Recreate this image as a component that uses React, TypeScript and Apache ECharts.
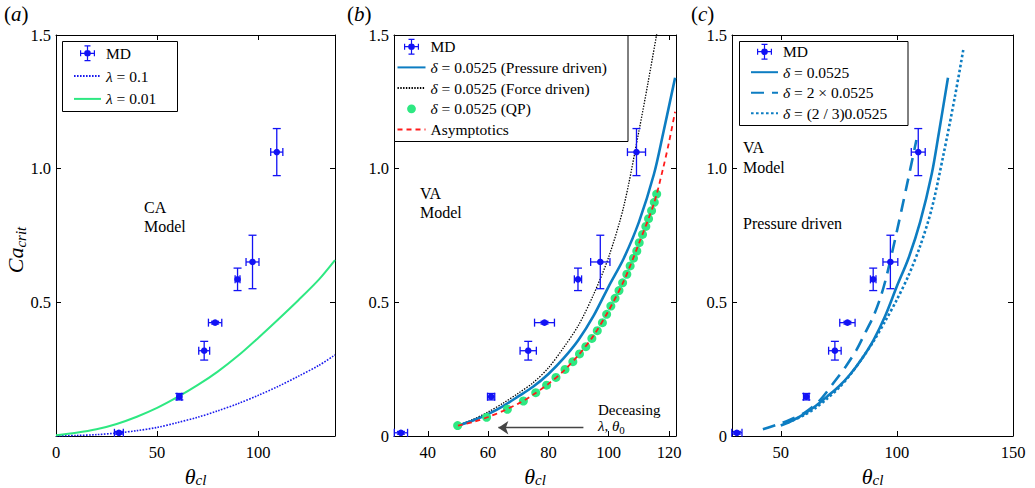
import React, { useEffect, useRef } from 'react';
import * as echarts from 'echarts';

// ---------------- data ----------------
// MD simulation points (shared by all three panels)
const mdTheta = [31.1, 61.0, 73.3, 78.7, 89.8, 97.2, 109.2];
const mdCa = [0.012, 0.147, 0.319, 0.424, 0.586, 0.651, 1.062];
const mdThetaErr = [2.2, 1.2, 2.7, 3.3, 1.2, 3.2, 3.0];
const mdCaErr = [0.005, 0.012, 0.035, 0.005, 0.042, 0.1, 0.088];

// panel (a) CA model
const caTheta = [0, 10, 20, 30, 40, 50, 60, 70, 80, 90, 100, 110, 120, 130, 138];
const caLam01 = [0, 0.002, 0.005, 0.011, 0.02, 0.032, 0.05, 0.07, 0.094, 0.121, 0.152, 0.186, 0.224, 0.264, 0.303];
const caLam001 = [0.003, 0.012, 0.025, 0.045, 0.072, 0.105, 0.145, 0.19, 0.241, 0.3, 0.367, 0.437, 0.509, 0.585, 0.658];

// panel (b) VA model
const pdTheta = [50, 55, 60, 65, 70, 75, 80, 85, 90, 95, 100, 105, 110, 115, 118, 122];
const pdCa = [0.039, 0.058, 0.082, 0.112, 0.148, 0.185, 0.232, 0.29, 0.36, 0.45, 0.56, 0.665, 0.8, 0.98, 1.13, 1.34];
const fdTheta = [50, 55, 60, 65, 70, 75, 80, 85, 90, 95, 100, 105, 110, 113, 116];
const fdCa = [0.04, 0.062, 0.09, 0.123, 0.16, 0.2, 0.255, 0.33, 0.415, 0.53, 0.67, 0.86, 1.14, 1.32, 1.51];
const qpTheta = [49.9, 59.5, 66.4, 71.7, 75.8, 79.4, 82.5, 85.5, 88.1, 90.3, 92.4, 94.4, 96.2, 97.9, 99.3, 100.7, 102.1, 103.4, 104.6, 106.0, 107.1, 108.2, 109.3, 110.1, 111.2, 112.3, 113.2, 114.2, 115.1, 115.9];
const qpCa = [0.039, 0.07, 0.1, 0.131, 0.162, 0.19, 0.219, 0.249, 0.278, 0.307, 0.334, 0.365, 0.394, 0.424, 0.455, 0.486, 0.515, 0.544, 0.573, 0.605, 0.636, 0.665, 0.692, 0.723, 0.754, 0.784, 0.813, 0.843, 0.874, 0.905];
const asTheta = [50, 55, 60, 65, 70, 75, 80, 85, 90, 95, 100, 105, 110, 115, 118, 120, 122];
const asCa = [0.039, 0.052, 0.071, 0.094, 0.121, 0.155, 0.195, 0.243, 0.303, 0.376, 0.47, 0.58, 0.72, 0.87, 1.0, 1.1, 1.213];

// panel (c) delta variations
const d2Theta = [42.3, 50, 55, 61, 67, 72.6, 78, 82.6, 86, 89.8, 93, 95.5, 99.8, 104.1, 108.4];
const d2Ca = [0.025, 0.047, 0.065, 0.091, 0.135, 0.197, 0.26, 0.322, 0.38, 0.446, 0.52, 0.596, 0.758, 0.93, 1.107];
const d23Theta = [53, 60, 65, 70, 75, 80, 85, 90, 95, 100, 105, 110, 115, 120, 125, 128.7];
const d23Ca = [0.05, 0.078, 0.105, 0.14, 0.18, 0.23, 0.29, 0.355, 0.43, 0.51, 0.6, 0.71, 0.85, 1.05, 1.27, 1.45];

// arrow annotation in panel (b): from / to (theta, Ca)
const arrowFrom = [91.6, 0.031];
const arrowTo = [63.4, 0.031];

// axis ticks
const xTicksA = [0, 50, 100];
const xTicksB = [40, 60, 80, 100, 120];
const xTicksC = [50, 100, 150];
const yTicksA = [0.5, 1.0, 1.5];
const yTicksBC = [0, 0.5, 1.0, 1.5];
const yInner = [0.5, 1.0];

// ---------------- styles ----------------
const FONT = 'Liberation Serif';
const MD_COLOR = '#1212f5';
const GREEN = '#2ee882';
const BLUE = '#0d7dc2';
const RED = '#ff1a1a';

const zip = (a: number[], b: number[]) => a.map((v, i) => [v, b[i]]);

const MD_ICON =
  'path://M0.5,7.4 H15.5 V8.6 H0.5 Z M0.5,5 H1.7 V11 H0.5 Z M14.3,5 H15.5 V11 H14.3 Z ' +
  'M7.4,0 H8.6 V16 H7.4 Z M5,0 H11 V1.2 H5 Z M5,14.8 H11 V16 H5 Z ' +
  'M11.3,8 A3.3,3.3 0 1 1 4.7,8 A3.3,3.3 0 1 1 11.3,8 Z';
const QP_ICON =
  'path://M0,0 L0,0.01 M16,16 L16,15.99 M12.4,8 A4.4,4.4 0 1 1 3.6,8 A4.4,4.4 0 1 1 12.4,8 Z';

const legendLabels: Record<string, string> = {
  'λ = 0.1': '{i|λ} = 0.1',
  'λ = 0.01': '{i|λ} = 0.01',
  'δ = 0.0525 (Pressure driven)': '{i|δ} = 0.0525 (Pressure driven)',
  'δ = 0.0525 (Force driven)': '{i|δ} = 0.0525 (Force driven)',
  'δ = 0.0525 (QP)': '{i|δ} = 0.0525 (QP)',
  'δ = 0.0525': '{i|δ} = 0.0525',
  'δ = 2 × 0.0525': '{i|δ} = 2 × 0.0525',
  'δ = (2 / 3)0.0525': '{i|δ} = (2 / 3)0.0525',
};

function mdSeries(gi: number) {
  return {
    type: 'custom',
    name: 'MD',
    xAxisIndex: gi * 2,
    yAxisIndex: gi * 2,
    z: 5,
    data: mdTheta.map((t, i) => [t, mdCa[i], mdThetaErr[i], mdCaErr[i]]),
    encode: { x: 0, y: 1 },
    itemStyle: { color: MD_COLOR },
    renderItem: (_params: any, api: any) => {
      const x = api.value(0);
      const y = api.value(1);
      const ex = api.value(2);
      const ey = api.value(3);
      const c = api.coord([x, y]);
      const l = api.coord([x - ex, y]);
      const r = api.coord([x + ex, y]);
      const t = api.coord([x, y + ey]);
      const b = api.coord([x, y - ey]);
      const cap = 4;
      const st = { stroke: MD_COLOR, lineWidth: 1.3 };
      const ln = (x1: number, y1: number, x2: number, y2: number) => ({
        type: 'line',
        shape: { x1, y1, x2, y2 },
        style: st,
      });
      return {
        type: 'group',
        children: [
          ln(l[0], l[1], r[0], r[1]),
          ln(l[0], l[1] - cap, l[0], l[1] + cap),
          ln(r[0], r[1] - cap, r[0], r[1] + cap),
          ln(t[0], t[1], b[0], b[1]),
          ln(t[0] - cap, t[1], t[0] + cap, t[1]),
          ln(b[0] - cap, b[1], b[0] + cap, b[1]),
          { type: 'circle', shape: { cx: c[0], cy: c[1], r: 3.3 }, style: { fill: MD_COLOR } },
        ],
      };
    },
  };
}

function lineSeries(gi: number, name: string, xs: number[], ys: number[], color: string, width: number, type: any) {
  return {
    type: 'line',
    name,
    xAxisIndex: gi * 2,
    yAxisIndex: gi * 2,
    data: zip(xs, ys),
    smooth: 0.3,
    symbol: 'none',
    showSymbol: false,
    clip: true,
    lineStyle: { color, width, type },
    itemStyle: { color },
    z: 3,
  };
}

const axisLabelStyle = { fontFamily: FONT, fontSize: 16.5, color: '#000' };

function xAxes(gi: number, min: number, max: number, ticks: number[], labels: number[]) {
  const common = {
    type: 'value',
    gridIndex: gi,
    min,
    max,
    splitLine: { show: false },
    axisLine: { show: true, onZero: false, lineStyle: { color: '#000', width: 1 } },
  };
  return [
    {
      ...common,
      position: 'bottom',
      axisTick: { show: true, inside: true, length: 5, customValues: ticks, lineStyle: { color: '#000' } },
      axisLabel: { ...axisLabelStyle, margin: 8, customValues: labels, formatter: (v: number) => String(v) },
      name: '{t|θ}{s|cl}',
      nameLocation: 'middle',
      nameGap: 27,
      nameTextStyle: {
        rich: {
          t: { fontFamily: FONT, fontStyle: 'italic', fontSize: 22, color: '#000', lineHeight: 22 },
          s: { fontFamily: FONT, fontStyle: 'italic', fontSize: 15, color: '#000', lineHeight: 15, padding: [7, 0, 0, 0] },
        },
      },
    },
    {
      ...common,
      position: 'top',
      axisTick: { show: true, inside: true, length: 5, customValues: ticks.filter((v) => v > min && v < max), lineStyle: { color: '#000' } },
      axisLabel: { show: false },
    },
  ];
}

const yFmt = (v: number) => (v === 0 ? '0' : v.toFixed(1));

function yAxes(gi: number, labels: number[]) {
  const common = {
    type: 'value',
    gridIndex: gi,
    min: 0,
    max: 1.5,
    splitLine: { show: false },
    axisLine: { show: true, onZero: false, lineStyle: { color: '#000', width: 1 } },
    axisTick: { show: true, inside: true, length: 5, customValues: yInner, lineStyle: { color: '#000' } },
  };
  return [
    {
      ...common,
      position: 'left',
      axisLabel: { ...axisLabelStyle, margin: 5, customValues: labels, formatter: yFmt },
    },
    {
      ...common,
      position: 'right',
      axisLabel: { show: false },
    },
  ];
}

const LEGEND_FS = 15.5;
const legendText = {
  fontFamily: FONT,
  fontSize: LEGEND_FS,
  color: '#000',
  lineHeight: 16,
  rich: {
    i: { fontFamily: FONT, fontStyle: 'italic', fontSize: LEGEND_FS, color: '#000', lineHeight: 16 },
  },
};

const hideSym = { opacity: 0 };

function legend(left: number, top: number, itemWidth: number, itemGap: number, data: any[]) {
  return {
    orient: 'vertical',
    left,
    top,
    padding: 0,
    itemWidth,
    itemHeight: 16,
    itemGap,
    selectedMode: false,
    borderWidth: 0,
    backgroundColor: 'transparent',
    textStyle: legendText,
    formatter: (name: string) => legendLabels[name] ?? name,
    z: 10,
    data,
  };
}

function box(x: number, y: number, w: number, h: number) {
  return {
    type: 'rect',
    z: 8,
    shape: { x: x + 0.5, y: y + 0.5, width: w, height: h },
    style: { fill: '#fff', stroke: '#000', lineWidth: 1 },
  };
}

const annotationStyle = { fontFamily: FONT, fontSize: 16, fill: '#000' };

function txt(x: number, y: number, text: string, extra: any = {}) {
  return {
    type: 'text',
    x,
    y,
    z: 6,
    style: { ...annotationStyle, text, verticalAlign: 'middle', ...extra },
  };
}

function panelLabel(x: number, letter: string) {
  return {
    type: 'text',
    x,
    y: 14,
    style: {
      text: '({i|' + letter + '})',
      fontFamily: FONT,
      fontSize: 21,
      fill: '#000',
      verticalAlign: 'middle',
      rich: { i: { fontFamily: FONT, fontStyle: 'italic', fontSize: 21, fill: '#000' } },
    },
  };
}

export default function App() {
  const ref = useRef<HTMLDivElement>(null);

  useEffect(() => {
    const chart = echarts.init(ref.current!, null, { renderer: 'svg' });

    const asym: any = lineSeries(1, 'Asymptotics', asTheta, asCa, RED, 1.8, [5, 4]);
    asym.z = 4;
    asym.markLine = {
      silent: true,
      animation: false,
      symbol: ['none', 'arrow'],
      symbolSize: 10,
      label: { show: false },
      lineStyle: { color: '#444', width: 1.3, type: 'solid' },
      data: [[{ coord: arrowFrom }, { coord: arrowTo }]],
    };

    const gridBase = { top: 35, height: 401, outerBoundsMode: 'none', containLabel: false };

    const option: any = {
      animation: false,
      backgroundColor: '#fff',
      grid: [
        { ...gridBase, left: 56, width: 279 },
        { ...gridBase, left: 394, width: 282 },
        { ...gridBase, left: 732, width: 281 },
      ],
      xAxis: [
        ...xAxes(0, 0, 138, [50, 100], xTicksA),
        ...xAxes(1, 28.8, 122.3, xTicksB, xTicksB),
        ...xAxes(2, 29, 150, [50, 100], xTicksC),
      ],
      yAxis: [...yAxes(0, yTicksA), ...yAxes(1, yTicksBC), ...yAxes(2, yTicksBC)],
      legend: [
        legend(73, 45.3, 27, 6.8, [
          { name: 'MD', icon: MD_ICON, itemStyle: { color: MD_COLOR, borderWidth: 0 } },
          { name: 'λ = 0.1', itemStyle: hideSym },
          { name: 'λ = 0.01', itemStyle: hideSym },
        ]),
        legend(396.5, 38.7, 28, 4.7, [
          { name: 'MD', icon: MD_ICON, itemStyle: { color: MD_COLOR, borderWidth: 0 } },
          { name: 'δ = 0.0525 (Pressure driven)', itemStyle: hideSym },
          { name: 'δ = 0.0525 (Force driven)', itemStyle: hideSym },
          { name: 'δ = 0.0525 (QP)', icon: QP_ICON, itemStyle: { color: GREEN, borderWidth: 0 } },
          { name: 'Asymptotics', itemStyle: hideSym },
        ]),
        legend(750, 43.7, 27, 4.5, [
          { name: 'MD', icon: MD_ICON, itemStyle: { color: MD_COLOR, borderWidth: 0 } },
          { name: 'δ = 0.0525', itemStyle: hideSym },
          { name: 'δ = 2 × 0.0525', itemStyle: hideSym },
          { name: 'δ = (2 / 3)0.0525', itemStyle: hideSym },
        ]),
      ],
      series: [
        // panel a
        lineSeries(0, 'λ = 0.1', caTheta, caLam01, '#1a1aee', 1.6, [1.6, 1.4]),
        lineSeries(0, 'λ = 0.01', caTheta, caLam001, GREEN, 2, 'solid'),
        mdSeries(0),
        // panel b
        lineSeries(1, 'δ = 0.0525 (Force driven)', fdTheta, fdCa, '#000', 1.3, [1.4, 1.4]),
        lineSeries(1, 'δ = 0.0525 (Pressure driven)', pdTheta, pdCa, BLUE, 2.6, 'solid'),
        {
          type: 'scatter',
          name: 'δ = 0.0525 (QP)',
          xAxisIndex: 2,
          yAxisIndex: 2,
          data: zip(qpTheta, qpCa),
          symbol: 'circle',
          symbolSize: 9,
          itemStyle: { color: GREEN, opacity: 1 },
          z: 3,
        },
        asym,
        mdSeries(1),
        // panel c
        lineSeries(2, 'δ = 0.0525', pdTheta, pdCa, BLUE, 2.6, 'solid'),
        lineSeries(2, 'δ = 2 × 0.0525', d2Theta, d2Ca, BLUE, 2.6, [13, 8]),
        lineSeries(2, 'δ = (2 / 3)0.0525', d23Theta, d23Ca, BLUE, 2.6, [2.6, 2.4]),
        mdSeries(2),
      ],
      graphic: [
        box(62, 41, 115, 70),
        box(394, 35, 233.5, 106),
        box(739, 41, 168.5, 84),
        panelLabel(4, 'a'),
        panelLabel(347, 'b'),
        panelLabel(691, 'c'),
        {
          type: 'text',
          x: 15,
          y: 250,
          rotation: Math.PI / 2,
          style: {
            text: '{c|Ca}{s|crit}',
            align: 'center',
            verticalAlign: 'middle',
            rich: {
              c: { fontFamily: FONT, fontStyle: 'italic', fontSize: 22, fill: '#000' },
              s: { fontFamily: FONT, fontStyle: 'italic', fontSize: 15, fill: '#000', padding: [11, 0, 0, 0] },
            },
          },
        },
        txt(144, 207, 'CA'),
        txt(144, 226, 'Model'),
        txt(420, 193, 'VA'),
        txt(420, 212, 'Model'),
        txt(743, 147, 'VA'),
        txt(743, 167, 'Model'),
        txt(743, 223, 'Pressure driven'),
        txt(598, 410, 'Deceasing', { fontSize: 15 }),
        {
          type: 'text',
          x: 598,
          y: 426,
          z: 6,
          style: {
            text: '{i|λ}, {i|θ}{s|0}',
            verticalAlign: 'middle',
            fontFamily: FONT,
            fontSize: 15,
            fill: '#000',
            rich: {
              i: { fontFamily: FONT, fontStyle: 'italic', fontSize: 15, fill: '#000' },
              s: { fontFamily: FONT, fontSize: 11, fill: '#000', padding: [7, 0, 0, 0] },
            },
          },
        },
      ],
    };

    chart.setOption(option);
    return () => chart.dispose();
  }, []);

  return (
    <div
      ref={ref}
      style={{ position: 'absolute', left: 0, top: 0, width: 1035, height: 488, background: '#fff' }}
    />
  );
}
